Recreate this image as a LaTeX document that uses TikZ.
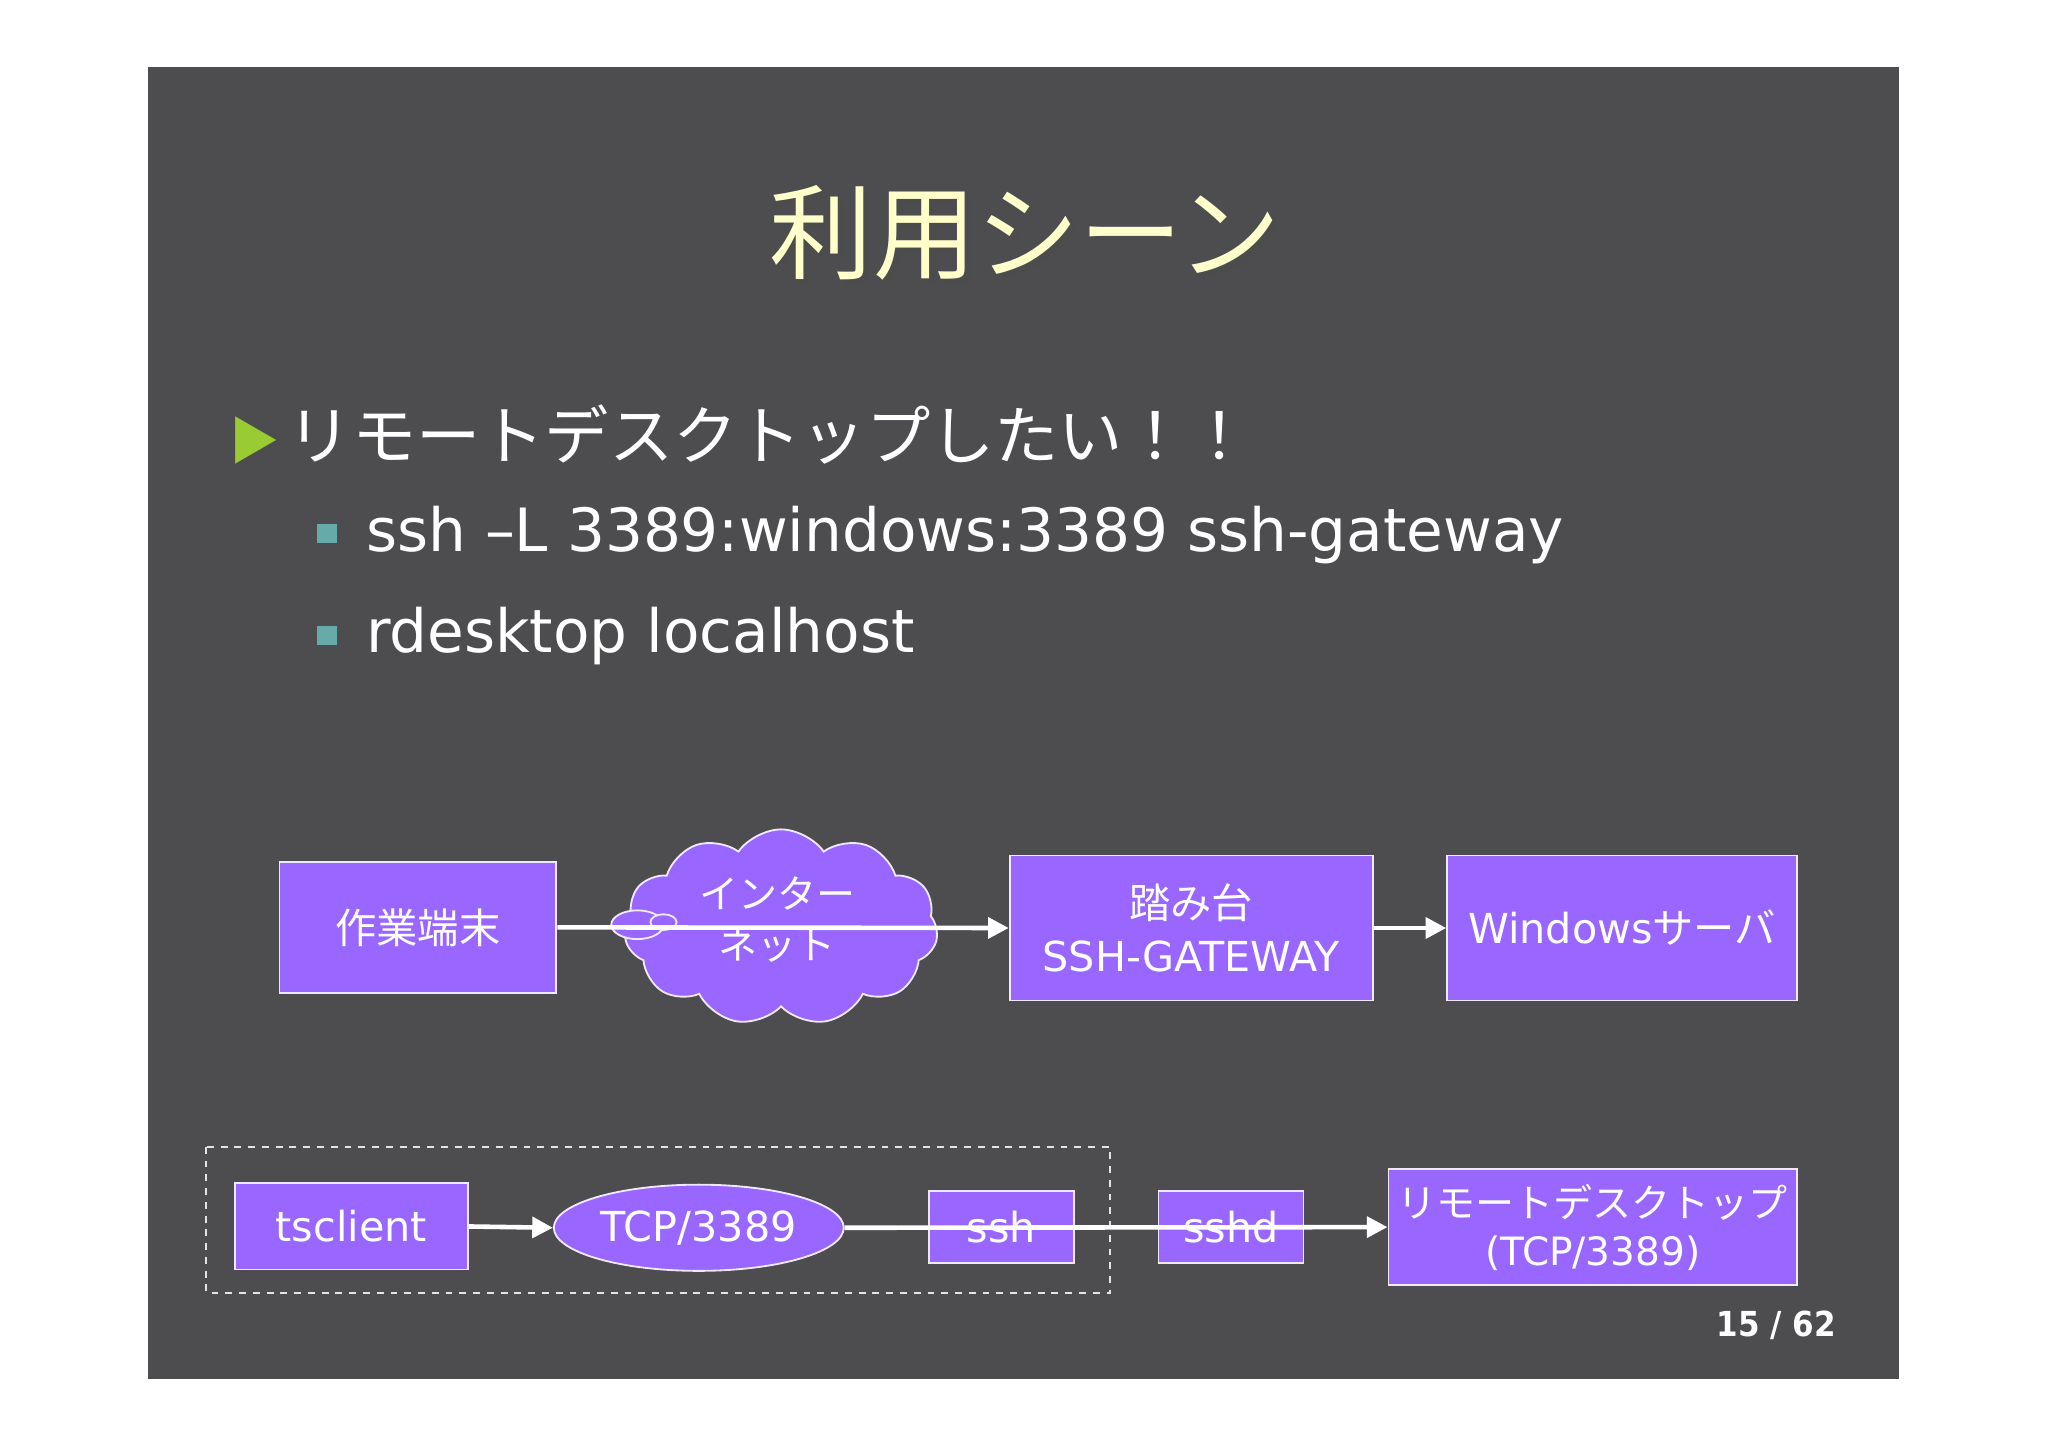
\documentclass[tikz,border=0pt]{standalone}
\usepackage{fontspec}
\setmainfont{DejaVu Sans}
\newfontfamily\cjk{Noto Sans CJK JP}
\newfontfamily\cond{DejaVu Sans Condensed}
\usetikzlibrary{shapes.symbols,shapes.geometric,arrows.meta}
\definecolor{slidebg}{HTML}{4D4C4E}
\definecolor{purp}{HTML}{9966FF}
\definecolor{titlec}{HTML}{FFFFCC}
\definecolor{bgreen}{HTML}{99CC33}
\definecolor{teal}{HTML}{66AAAA}
\tikzset{
  box/.style={draw=white!85!purp, line width=0.8pt, fill=purp, inner sep=0pt, text=white, align=center, font=\fontsize{18}{23}\selectfont},
  arr/.style={draw=white, line width=2pt, -{Triangle[length=9pt,width=9pt]}},
  txt/.style={anchor=west, inner sep=0pt, text=white},
}
\newcommand{\bx}[6][]{\node[box,#1, minimum width=(#4-#2)*0.02cm, minimum height=(#5-#3)*0.02cm] (#6) at ({(#2+#4)/2},{(#3+#5)/2})}
\begin{document}
\begin{tikzpicture}[x=0.02cm,y=-0.02cm]
\useasboundingbox (0,0) rectangle (1568,1108);
\fill[white] (0,0) rectangle (1568,1108);
\fill[slidebg] (113,51) rectangle (1454,1056);
% title
\node[text=black!70, font=\cjk\fontsize{45}{50}\selectfont] (titles) at (789,182) {利用シーン};
\node[text=titlec, font=\cjk\fontsize{45}{50}\selectfont] (title) at (785,178) {利用シーン};
% bullets
\node[text=bgreen, font=\cjk\fontsize{22}{26}\selectfont, inner sep=0pt] (b1) at (195,337) {▶};
\node[txt, font=\cjk\fontsize{28}{32}\selectfont] (t1) at (220,333) {リモートデスクトップしたい！！};
\fill[teal] (243,401) rectangle (258,416);
\node[txt, font=\fontsize{26}{30}\selectfont] (t2) at (280,410) {ssh –L 3389:windows:3389 ssh-gateway};
\fill[teal] (243,479) rectangle (258,494);
\node[txt, font=\fontsize{26}{30}\selectfont] (t3) at (280,487) {rdesktop localhost};
% top row
\bx[font=\cjk\fontsize{18}{22}\selectfont]{214}{660}{426}{760}{pc} {作業端末};
\node[cloud, cloud puffs=11, cloud puff arc=110, aspect=1.5, draw=white!85!purp, line width=0.8pt, fill=purp, minimum width=240*0.02cm, minimum height=150*0.02cm, inner sep=0pt] (net) at (598,710) {};
\draw[draw=white!85!purp, fill=purp, line width=0.8pt] (488,708) ellipse [x radius=20, y radius=11];
\draw[draw=white!85!purp, fill=purp, line width=0.8pt] (508,706) ellipse [x radius=10, y radius=6];
\bx{773}{655}{1051}{766}{gw} {{\cjk 踏み台}\\SSH-GATEWAY};
\bx{1108}{655}{1376}{766}{win} {Windows{\cjk サーバ}};
\draw[arr] (pc.east) -- (gw.west);
\node[text=white, align=center, font=\cjk\fontsize{17}{22}\selectfont] (nett) at (595,704) {インター\\ネット};
\draw[arr] (gw.east) -- (win.west);
% bottom row
\draw[white!85!slidebg, dashed, line width=0.8pt] (158,878) rectangle (850,990);
\bx{180}{906}{358}{972}{ts} {tsclient};
\node[box, ellipse, minimum width=222*0.02cm, minimum height=66*0.02cm] (tcp) at (535,940) {TCP/3389};
\bx{711}{912}{822}{967}{ssh} {ssh};
\bx{887}{912}{998}{967}{sshd} {sshd};
\bx[font=\fontsize{17}{21}\selectfont]{1063}{895}{1376}{984}{rdp} {{\cjk リモートデスクトップ}\\(TCP/3389)};
\draw[arr] (ts.east) -- (tcp.west);
\draw[arr] (tcp.east) -- (rdp.west);
\node[text=white, font=\cond\bfseries\fontsize{15}{18}\selectfont] (pg) at (1360,1015) {15 / 62};
\end{tikzpicture}
\end{document}
